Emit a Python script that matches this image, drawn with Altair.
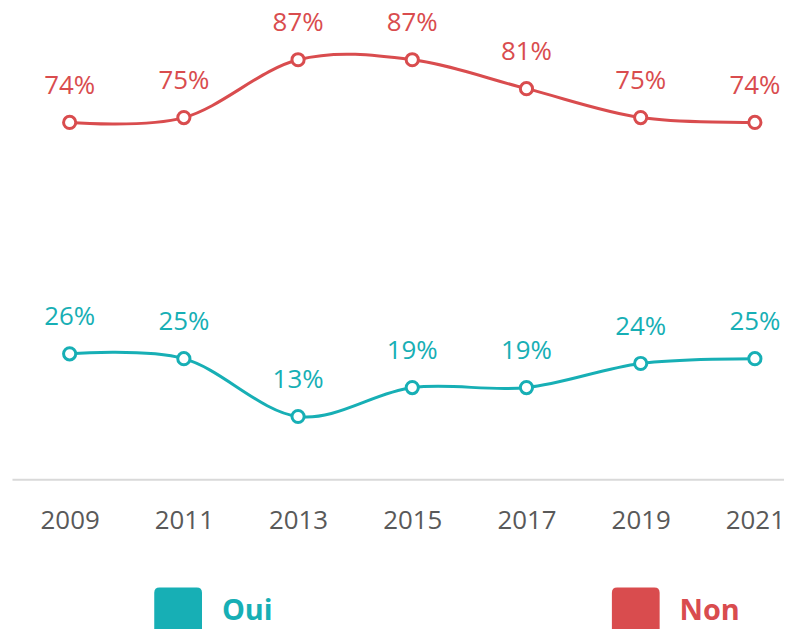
import altair as alt
import pandas as pd

years = [2009, 2011, 2013, 2015, 2017, 2019, 2021]
oui = [26, 25, 13, 19, 19, 24, 25]
non = [74, 75, 87, 87, 81, 75, 74]
series_names = ["Oui", "Non"]
series_colors = ["#17AFB5", "#D94C4E"]

rows = []
for y, v in zip(years, oui):
    rows.append({"year": y, "value": v, "serie": "Oui"})
for y, v in zip(years, non):
    rows.append({"year": y, "value": v, "serie": "Non"})
df = pd.DataFrame(rows)

rounded_square = ("M-1,-0.78 Q-1,-1 -0.78,-1 L0.78,-1 Q1,-1 1,-0.78 L1,0.78 "
                  "Q1,1 0.78,1 L-0.78,1 Q-1,1 -1,0.78 Z")

color_expr = f"datum.value == 'Oui' ? '{series_colors[0]}' : '{series_colors[1]}'"

color = alt.Color(
    "serie:N",
    scale=alt.Scale(domain=series_names, range=series_colors),
    legend=alt.Legend(
        title=None,
        orient="none",
        legendX=143,
        legendY=581,
        direction="horizontal",
        symbolType=rounded_square,
        symbolSize=2304,
        symbolStrokeWidth=0,
        symbolOpacity=1,
        symbolFillColor={"expr": color_expr},
        labelColor={"expr": color_expr},
        labelFont="Open Sans",
        labelFontSize=29,
        labelFontWeight="bold",
        labelOffset=20,
        columnPadding=341,
        padding=0,
    ),
)

x = alt.X(
    "year:Q",
    scale=alt.Scale(domain=[2007.99, 2021.51], nice=False, zero=False),
    axis=alt.Axis(
        title=None,
        values=years,
        format="d",
        grid=False,
        ticks=False,
        labelFont="Open Sans",
        labelFontSize=26,
        labelColor="#595959",
        labelPadding=29,
        domainColor="#D9D9D9",
        domainWidth=2,
    ),
)
y = alt.Y("value:Q", scale=alt.Scale(domain=[0, 97.4], nice=False), axis=None)

base = alt.Chart(df).encode(x=x, y=y, color=color)

line = base.mark_line(interpolate="cardinal", strokeWidth=3)
points = base.mark_point(shape="circle", filled=False, fill="white", fillOpacity=1,
                         size=150, strokeWidth=3, opacity=1)
labels = base.transform_calculate(label="datum.value + '%'").mark_text(
    dy=-37, fontSize=26, font="Open Sans", baseline="middle"
).encode(text="label:N")

chart = alt.layer(line, points, labels).properties(
    width=776,
    height=472,
    autosize=alt.AutoSizeParams(type="none"),
    padding={"left": 4, "top": 0, "right": 0, "bottom": 149},
).configure_view(stroke=None)

chart.save("out.html", embed_options={"renderer": "svg", "actions": False})
